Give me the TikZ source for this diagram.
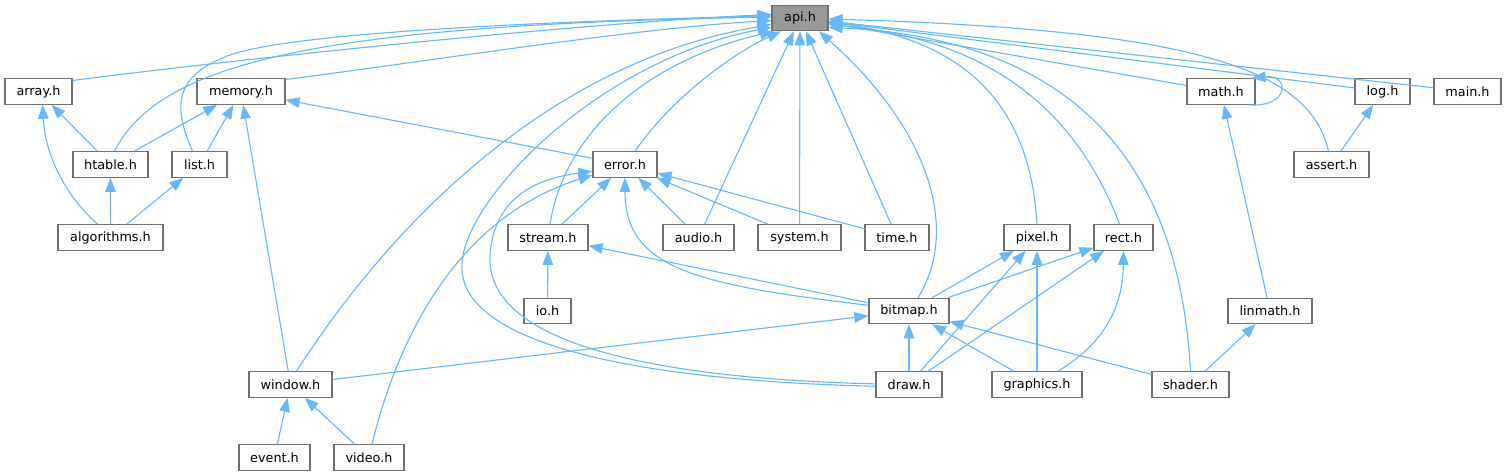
\documentclass[tikz,border=0pt]{standalone}
\usepackage{fontspec}
\setmainfont{DejaVu Sans}
\usetikzlibrary{arrows.meta}
\definecolor{edgeblue}{HTML}{63B8FF}
\definecolor{boxgrey}{HTML}{707070}
\definecolor{apigrey}{HTML}{999999}

\begin{document}
\begin{tikzpicture}[x=1pt,y=-1pt,>={Triangle[length=14pt,width=10.5pt]},
    hfile/.style={draw=boxgrey, line width=1.1pt, fill=white, inner sep=0pt,
      minimum height=25.5pt, font=\fontsize{12.8}{15}\selectfont},
    dep/.style={->, edgeblue, line width=1.1pt}]

        \fill[white] (0,0) rectangle (1507,476);
        \useasboundingbox (0,0) rectangle (1507,476);

        %%% NODES

        % Top
        \node[hfile, fill=apigrey, minimum width=56pt] (api) at (800,18) {api.h};

        % Second row
        \node[hfile, minimum width=67pt] (array) at (38.5,91.5) {array.h};
        \node[hfile, minimum width=88pt] (memory) at (241,91.5) {memory.h};
        \node[hfile, minimum width=68pt] (math) at (1221,91.5) {math.h};
        \node[hfile, minimum width=55pt] (log) at (1382.5,91.5) {log.h};
        \node[hfile, minimum width=67pt] (main) at (1467.5,91.5) {main.h};

        % Third row
        \node[hfile, minimum width=75pt] (htable) at (110.5,164.5) {htable.h};
        \node[hfile, minimum width=55pt] (list) at (199.5,164.5) {list.h};
        \node[hfile, minimum width=64pt] (error) at (625,164.5) {error.h};
        \node[hfile, minimum width=75pt] (assert) at (1331.5,164.5) {assert.h};

        % Fourth row
        \node[hfile, minimum width=105pt] (algorithms) at (110.5,237.5) {algorithms.h};
        \node[hfile, minimum width=80pt] (stream) at (548,237.5) {stream.h};
        \node[hfile, minimum width=71pt] (audio) at (698.5,237.5) {audio.h};
        \node[hfile, minimum width=83pt] (system) at (799.5,237.5) {system.h};
        \node[hfile, minimum width=64pt] (time) at (897,237.5) {time.h};
        \node[hfile, minimum width=66pt] (pixel) at (1037,237.5) {pixel.h};
        \node[hfile, minimum width=59pt] (rect) at (1123.5,237.5) {rect.h};

        % Fifth row
        \node[hfile, minimum width=47pt] (io) at (547.5,311) {io.h};
        \node[hfile, minimum width=80pt] (bitmap) at (909,311) {bitmap.h};
        \node[hfile, minimum width=84pt] (linmath) at (1270,311) {linmath.h};

        % Sixth row
        \node[hfile, minimum width=83pt] (window) at (290.5,384.5) {window.h};
        \node[hfile, minimum width=66pt] (draw) at (909,384.5) {draw.h};
        \node[hfile, minimum width=90pt] (graphics) at (1037,384.5) {graphics.h};
        \node[hfile, minimum width=77pt] (shader) at (1190.5,384.5) {shader.h};

        % Bottom
        \node[hfile, minimum width=71pt] (event) at (274.5,457.5) {event.h};
        \node[hfile, minimum width=70pt] (video) at (369,457.5) {video.h};

        %%% INCLUDES OF api.h

        % From the left
        \draw[dep] (array.18) .. controls (272,55) and (600,22) .. (api.173);
        \draw[dep] (memory.15) .. controls (450,58) and (640,28) .. (api.185);
        \draw[dep] ([xshift=4pt]htable.north) .. controls (160,60) and (330,25) .. (api.178);
        \draw[dep] ([xshift=-7pt]list.north) .. controls (172,105) and (175,75) .. (230,55)
            .. controls (300,30) and (600,20) .. (api.176);
        \draw[dep] ([xshift=6pt]window.north) .. controls (400,210) and (560,60) .. (api.193);
        \draw[dep] (draw.183) .. controls (620,380) and (455,340) .. (462,262)
            .. controls (468,195) and (600,60) .. (api.198);
        \draw[dep] ([xshift=2pt]stream.north) .. controls (565,130) and (650,60) .. (api.207);
        \draw[dep] ([xshift=10pt]error.north) .. controls (670,100) and (730,55) .. (api.215);

        % From below
        \draw[dep] (audio) -- (api);
        \draw[dep] (system) -- (api);
        \draw[dep] (time) -- (api);
        \draw[dep] ([xshift=9pt]bitmap.north) .. controls (960,230) and (930,130) .. (api.325);

        % From the right
        \draw[dep] (pixel.north) .. controls (1030,100) and (960,40) .. (api.352);
        \draw[dep] ([xshift=-4pt]rect.north) .. controls (1080,120) and (1000,40) .. (api.347);
        \draw[dep] (shader.north) .. controls (1180,180) and (1090,40) .. (api.342);
        \draw[dep] ([xshift=-3pt]assert.north) .. controls (1310,70) and (1200,30) .. (api.358);
        \draw[dep] (math) -- (api);
        \draw[dep] (log) -- (api);
        \draw[dep] (main) -- (api);

        %%% LEFT PART

        \draw[dep] (htable) -- (array);
        \draw[dep] (htable) -- (memory);
        \draw[dep] (list) -- (memory);
        \draw[dep] (algorithms) -- (htable);
        \draw[dep] (algorithms) -- (list);
        \draw[dep] ([xshift=-13pt]algorithms.north) .. controls (60,190) and (45,150) .. ([xshift=4pt]array.south);
        \draw[dep] (window) -- (memory);
        \draw[dep] (event) -- (window);
        \draw[dep] (video) -- (window);

        %%% error.h

        \draw[dep] (error) -- (memory);
        \draw[dep] (stream) -- (error);
        \draw[dep] (audio) -- (error);
        \draw[dep] (system) -- (error);
        \draw[dep] (time) -- (error);
        \draw[dep] (bitmap.172) .. controls (700,285) and (625,270) .. (error.south);
        \draw[dep] (draw.179) .. controls (640,378) and (485,340) .. (490,255)
            .. controls (494,195) and (540,178) .. (error.192);
        \draw[dep] ([xshift=3pt]video.north) .. controls (395,350) and (450,220) .. (error.198);

        %%% MIDDLE AND RIGHT PART

        \draw[dep] (io) -- (stream);
        \draw[dep] (bitmap) -- (stream);
        \draw[dep] (window) -- (bitmap);
        \draw[dep] (bitmap) -- (pixel);
        \draw[dep] (bitmap) -- (rect);
        \draw[dep] (draw) -- (bitmap);
        \draw[dep] (draw) -- (pixel);
        \draw[dep] (draw) -- (rect);
        \draw[dep] (graphics) -- (bitmap);
        \draw[dep] (graphics) -- (pixel);
        \draw[dep] ([xshift=21pt]graphics.north) .. controls (1110,340) and (1123,300) .. (rect.south);
        \draw[dep] (shader) -- (bitmap);
        \draw[dep] (shader) -- (linmath);
        \draw[dep] (linmath) -- (math);
        \draw[dep] (assert) -- (log);

        % math.h includes itself
        \draw[dep] ([xshift=-7pt]math.south east) .. controls (1290,108) and (1290,74) .. ([xshift=-4pt]math.north east);

\end{tikzpicture}
\end{document}
